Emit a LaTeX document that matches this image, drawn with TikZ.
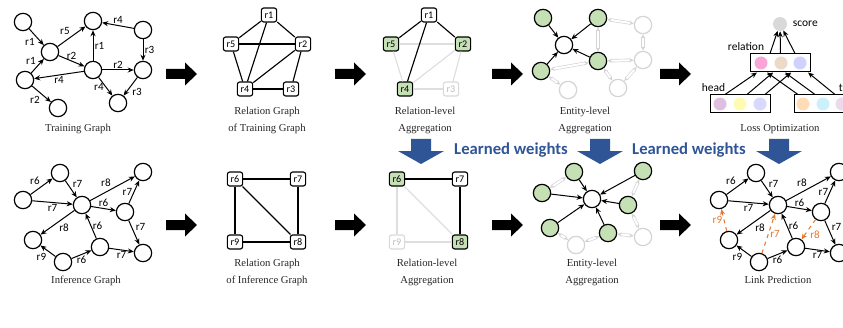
\documentclass[tikz,border=0pt]{standalone}
\usepackage{fontspec}
\setmainfont{Liberation Serif}
\newfontfamily\lblfont{Carlito}
\usepackage{xcolor}
\usepackage{tikz}
\usetikzlibrary{arrows.meta,calc,positioning}
\definecolor{entgreen}{HTML}{C5E0B4}
\definecolor{wblue}{HTML}{2F5597}
\definecolor{predorange}{HTML}{E2782F}
\tikzset{
  ent/.style={circle,draw,line width=0.9pt,minimum size=13pt,inner sep=0pt,fill=white},
  entg/.style={ent,fill=entgreen},
  entf/.style={ent,draw=black!17},
  lnk/.style={-{Stealth[length=4.5pt,width=3.8pt]},line width=0.75pt},
  ghost/.style={draw=black!17,line width=0.5pt,double=white,double distance=1.5pt,{Stealth[length=3.5pt,width=3pt]}-{Stealth[length=3.5pt,width=3pt]}},
  pred/.style={lnk,predorange,dashed},
  lab/.style={font=\lblfont\fontsize{8.3}{9}\selectfont,inner sep=1pt},
  relbox/.style={draw,rounded corners=1.8pt,line width=0.85pt,minimum width=11.5pt,minimum height=10.5pt,inner sep=0pt,font=\lblfont\fontsize{7.6}{8}\selectfont,fill=white},
  relg/.style={relbox,fill=entgreen},
  relf/.style={relbox,draw=black!15,text=black!25},
  rline/.style={line width=0.85pt},
  rfade/.style={line width=0.85pt,black!13},
  capt/.style={font=\fontsize{8}{12.75}\selectfont,align=center,anchor=north,inner sep=0pt,text=black!85},
  emb/.style={circle,minimum size=9.75pt,inner sep=0pt},
  embbox/.style={draw,line width=0.75pt,minimum width=45pt,minimum height=13.5pt,inner sep=0pt},
  wtext/.style={font=\lblfont\bfseries\fontsize{12.5}{13}\selectfont,text=wblue},
  small/.style={font=\lblfont\fontsize{8.6}{9}\selectfont,inner sep=1pt},
  bigarrow/.pic={\fill (0,-5) -- (19,-5) -- (19,-11.5) -- (31,0) -- (19,11.5) -- (19,5) -- (0,5) -- cycle;},
  wdown/.pic={\fill[wblue] (-10,0) -- (10,0) -- (10,12) -- (23,12) -- (0,25) -- (-23,12) -- (-10,12) -- cycle;},
}

\begin{document}
\begin{tikzpicture}[x=0.75pt,y=-0.75pt]
	\useasboundingbox (0,0) rectangle (843,328);
	\clip (0,0) rectangle (843,328);
	
	\foreach \n/\x/\y in {a/23/22,b/50/52,c/25/80,d/58/108,e/93/21,f/93/70,g/143/30,h/143/70,i/118/103}
		\node[ent] (t\n) at (\x,\y) {};
	\foreach \fa/\fb/\lb/\ps in {a/b/r1/below left,c/b/r1/above left,c/d/r2/below left,b/e/r5/above left,b/f/r2/above,f/e/r1/right,g/e/r4/above,g/h/r3/right,f/h/r2/above,f/c/r4/below,f/i/r4/left,h/i/r3/below right}
		\draw[lnk] (t\fa) -- node[lab,\ps] {\lb} (t\fb);
	\node[capt] (cap1) at (78,123.8) {Training Graph};
	
	\foreach \n/\x/\y in {1/269/15,5/231/44,2/303/44,4/245/89,3/291/89}
		\node[relbox] (g\n) at (\x,\y) {r\n};
	\foreach \fa/\fb in {1/5,1/2,1/4,5/2,5/4,2/4,2/3,4/3}
		\draw[rline] (g\fa) -- (g\fb);
	\node[capt] (cap2) at (267,106.8) {Relation Graph\\of Training Graph};
	
	\foreach \n/\x/\y/\st in {1/429/15/relbox,5/391/44/relg,2/463/44/relg,4/405/89/relg,3/451/89/relf}
		\node[\st] (k\n) at (\x,\y) {r\n};
	\foreach \fa/\fb in {5/2,5/4,2/4,2/3,4/3}
		\draw[rfade] (k\fa) -- (k\fb);
	\foreach \fa/\fb in {1/5,1/2,1/4}
		\draw[rline] (k\fa) -- (k\fb);
	\node[capt] (cap3) at (425,106.8) {Relation-level\\Aggregation};
	
	\foreach \n/\x/\y/\st in {b/564/45/ent,a/543/18/entg,e/598/18/entg,f/598/61/entg,c/541/71/entg,g/643/25/entf,h/643/60/entf,i/618/88/entf,d/568/90/entf}
		\node[\st] (u\n) at (\x,\y) {};
	\foreach \fa/\fb in {c/d,f/e,g/e,g/h,f/h,f/c,f/i,h/i}
		\draw[ghost] (u\fa) -- (u\fb);
	\foreach \fa in {a,c,e,f}
		\draw[lnk] (u\fa) -- (ub);
	\node[capt] (cap4) at (585,106.8) {Entity-level\\Aggregation};
	
	\node[circle,fill=black!15,minimum size=10.5pt,inner sep=0pt] (score) at (780,24) {};
	\node[small,right=3pt of score] (scoretxt) {score};
	\node[embbox] (rvec) at (780.5,63) {};
	\node[emb,fill=magenta!35] (rv1) at (761,63) {};
	\node[emb,fill=brown!30] (rv2) at (781,63) {};
	\node[emb,fill=blue!18] (rv3) at (800,63) {};
	\node[small] (reltxt) at (746,47) {relation};
	\node[embbox] (hvec) at (740,104) {};
	\node[emb,fill=violet!25] (hv1) at (720,104) {};
	\node[emb,fill=yellow!30] (hv2) at (740,104) {};
	\node[emb,fill=blue!15] (hv3) at (760,104) {};
	\node[small] (headtxt) at (713.5,88) {head};
	\node[embbox] (tvec) at (824,104) {};
	\node[emb,fill=orange!28] (tv1) at (803,104) {};
	\node[emb,fill=cyan!20] (tv2) at (823,104) {};
	\node[emb,fill=violet!15] (tv3) at (842,104) {};
	\node[small,anchor=west,inner sep=0pt] (tailtxt) at (838.5,88) {t};
	\draw[lnk] ($(rvec.north)+(-10.5,0)$) -- (score);
	\draw[lnk] (rvec.north) -- (score);
	\draw[lnk] ($(rvec.north)+(14.5,0)$) -- (score);
	\draw[lnk] ($(hvec.north)+(-15,0)$) -- ($(rvec.south)+(-23.5,0)$);
	\draw[lnk] ($(hvec.north)+(7,0)$) -- ($(rvec.south)+(-7.5,0)$);
	\draw[lnk] ($(hvec.north)+(25,0)$) -- ($(rvec.south)+(10.5,0)$);
	\draw[lnk] ($(tvec.north)+(-26,0)$) -- ($(rvec.south)+(-13.5,0)$);
	\draw[lnk] ($(tvec.north)+(-9,0)$) -- ($(rvec.south)+(4.5,0)$);
	\draw[lnk] ($(tvec.north)+(11,0)$) -- ($(rvec.south)+(27.5,0)$);
	\node[capt] (cap5) at (780,123.8) {Loss Optimization};
	
	\foreach \x in {166,335,492,660}
		\foreach \y in {74,225}
			\pic at (\x,\y) {bigarrow};
	
	\foreach \x in {421,600,779}
		\pic at (\x,139) {wdown};
	\node[wtext] (lw1) at (511,150) {Learned weights};
	\node[wtext] (lw2) at (689,150) {Learned weights};
	
	\foreach \n/\x/\y in {p/23/200,q/60/173,r/82/205,s/143/172,t/125/212,u/33/240,v/63/262,w/100/247,x/143/253}
		\node[ent] (i\n) at (\x,\y) {};
	\foreach \fa/\fb/\lb/\ps in {p/q/r6/above left,q/r/r7/above right,p/r/r7/below,r/s/r8/above left,r/t/r6/above,t/s/r7/left,t/x/r7/above right,r/u/r8/below right,v/u/r9/below left,v/w/r6/below,w/r/r6/right,w/x/r7/below}
		\draw[lnk] (i\fa) -- node[lab,\ps] {\lb} (i\fb);
	\node[capt] (cap6) at (86,275.8) {Inference Graph};
	
	\foreach \n/\x/\y in {6/235/179,7/298/179,9/235/242,8/298/242}
		\node[relbox] (h\n) at (\x,\y) {r\n};
	\foreach \fa/\fb in {6/7,6/9,6/8,7/8,9/8}
		\draw[rline] (h\fa) -- (h\fb);
	\node[capt] (cap7) at (267,258.8) {Relation Graph\\of Inference Graph};
	
	\foreach \n/\x/\y/\st in {6/397/179/relg,7/460/179/relbox,9/397/242/relf,8/460/242/relg}
		\node[\st] (m\n) at (\x,\y) {r\n};
	\foreach \fa/\fb in {6/9,6/8,9/8}
		\draw[rfade] (m\fa) -- (m\fb);
	\foreach \fa/\fb in {6/7,7/8}
		\draw[rline] (m\fa) -- (m\fb);
	\node[capt] (cap8) at (427,258.8) {Relation-level\\Aggregation};
	
	\foreach \n/\x/\y/\st in {r/592/199/ent,q/574/172/entg,p/542/193/entg,s/643/171/entg,t/628/205/entg,u/550/228/entg,w/608/233/entg,v/576/245/entf,x/643/237/entf}
		\node[\st] (v\n) at (\x,\y) {};
	\foreach \fa/\fb in {p/q,t/s,t/x,v/u,v/w,w/x}
		\draw[ghost] (v\fa) -- (v\fb);
	\foreach \fa in {q,p,s,t,u,w}
		\draw[lnk] (v\fa) -- (vr);
	\node[capt] (cap9) at (592,258.8) {Entity-level\\Aggregation};
	
	\foreach \n/\x/\y in {p/23/200,q/60/173,r/82/205,s/143/172,t/125/212,u/33/240,v/63/262,w/100/247,x/143/253}
		\node[ent] (l\n) at (\x+696,\y) {};
	\foreach \fa/\fb/\lb/\ps in {p/q/r6/above left,q/r/r7/above right,p/r/r7/below,r/s/r8/above left,r/t/r6/above,t/s/r7/left,t/x/r7/above right,r/u/r8/below right,v/u/r9/below left,v/w/r6/below,w/r/r6/right,w/x/r7/below}
		\draw[lnk] (l\fa) -- node[lab,\ps] {\lb} (l\fb);
	\draw[pred] (lu) -- node[lab,left,predorange] {r9} (lp);
	\draw[pred] (lv) -- node[lab,right,predorange] {r7} (lr);
	\draw[pred] (lt) -- node[lab,below right,predorange] {r8} (lw);
	\node[capt] (cap10) at (778,275.8) {Link Prediction};
	
\end{tikzpicture}
\end{document}
